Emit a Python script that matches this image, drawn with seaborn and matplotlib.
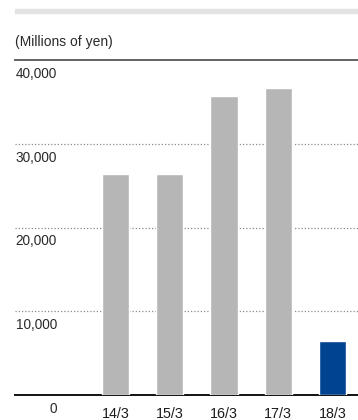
import matplotlib
matplotlib.use("Agg")
import matplotlib.pyplot as plt
import matplotlib.transforms as mtransforms
from matplotlib.patches import Rectangle
import seaborn as sns
import pandas as pd

# Fiscal years and values (millions of yen)
years = ["14/3", "15/3", "16/3", "17/3", "18/3"]
values = [26400, 26400, 35700, 36600, 6500]
bar_colors = ["#b5b6b5", "#b5b6b5", "#b5b6b5", "#b5b6b5", "#00438f"]
y_ticks = [0, 10000, 20000, 30000, 40000]
y_tick_labels = ["0", "10,000", "20,000", "30,000", "40,000"]
unit_label = "(Millions of yen)"

sns.set_theme(style="white")
plt.rcParams["font.family"] = ["Liberation Sans", "DejaVu Sans"]

W, H = 358, 420
fig = plt.figure(figsize=(W / 100, H / 100), dpi=100)
ax = fig.add_axes([15 / W, 1 - 395 / H, 1 - 15 / W, (395 - 60) / H])

df = pd.DataFrame({"year": years, "value": values})
sns.barplot(data=df, x="year", y="value", hue="year", palette=bar_colors,
            width=0.5, legend=False, saturation=1, ax=ax, zorder=3)

ax.set_xlim(-1.85, 4.47)
ax.set_ylim(0, 40000)
ax.set_xlabel("")
ax.set_ylabel("")

# dotted gridlines at intermediate ticks
for t in y_ticks[1:-1]:
    ax.axhline(t, color="#8a8a8a", lw=0.9, ls=(0, (1, 1.6)), zorder=1)

for side in ["left", "right"]:
    ax.spines[side].set_visible(False)
ax.spines["top"].set_color("#555555")
ax.spines["top"].set_linewidth(1.3)
ax.spines["bottom"].set_color("#111111")
ax.spines["bottom"].set_linewidth(1.4)

ax.set_yticks([])
ax.tick_params(axis="x", length=0, pad=8.5, labelsize=10.3,
               labelcolor="#1a1a1a")

# value axis labels sit just beneath each gridline
blend = mtransforms.blended_transform_factory(fig.transFigure, ax.transData)
off = mtransforms.ScaledTranslation(0, -5 / 72, fig.dpi_scale_trans)
for t, lab in zip(y_ticks, y_tick_labels):
    ax.text(57 / W, t, lab, transform=blend + off, ha="right", va="top",
            fontsize=9.8, color="#2a2a2a", clip_on=False)

fig.text(15 / W, 1 - 42 / H, unit_label, ha="left", va="center",
         fontsize=10, color="#2a2a2a")

# light header rule
fig.patches.append(Rectangle((15 / W, 1 - 13 / H), 1 - 15 / W, 4 / H,
                             transform=fig.transFigure, color="#e3e3e3",
                             zorder=0))

fig.savefig("out.png", dpi=100)
